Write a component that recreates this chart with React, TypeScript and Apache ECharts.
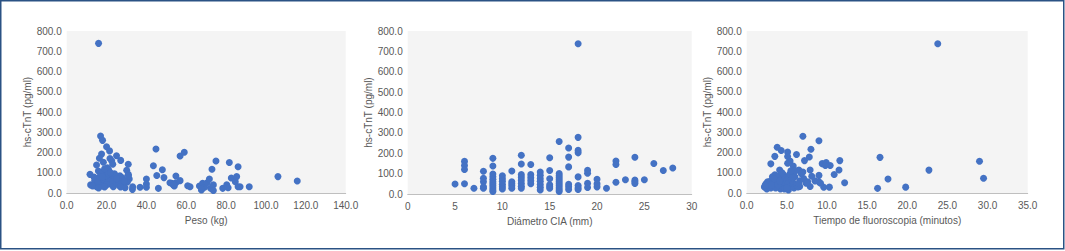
import React, { useEffect, useRef } from "react";
import * as echarts from "echarts";

const yTicks = [0, 100, 200, 300, 400, 500, 600, 700, 800];
const yTitle = "hs-cTnT (pg/ml)";
const xTitles = ["Peso (kg)", "Diámetro CIA (mm)", "Tiempo de fluoroscopia (minutos)"];

const pesoData: number[][] = [
  [16, 739], [17, 281], [18, 260], [20, 228], [21.5, 208], [17.5, 192], [25, 184], [16.4, 172], [21.7, 170], [22.6, 158],
  [27.1, 161], [15, 138], [18.4, 152], [23.1, 142], [30.9, 142], [20.4, 125], [30.1, 112], [15.9, 109], [18.4, 105], [21, 115],
  [26.7, 85], [11.7, 92], [30.9, 92], [13.7, 79], [17, 88], [19.5, 95], [22, 80], [24, 75], [28, 75], [31.4, 69],
  [12, 40], [15, 31], [16, 55], [17, 45], [18, 65], [19, 50], [20, 70], [21, 60], [22, 45], [23, 55],
  [16.5, 75], [18, 35], [20, 40], [14, 60], [15.5, 50], [23.4, 31], [25, 50], [26, 60], [28.4, 48], [29.3, 26],
  [30.5, 55], [33.1, 31], [33, 18], [36.8, 28], [40, 69], [40, 44], [40, 28], [43.5, 135], [44.8, 217], [45.2, 86],
  [46, 23], [48, 115], [48.8, 76], [51.8, 51], [52.8, 48], [54, 35], [54.8, 51], [54.8, 84], [56.9, 61], [56.9, 183],
  [59, 201], [60.7, 36], [61.9, 31], [66.6, 35], [67.6, 15], [68.2, 48], [69.2, 28], [70.5, 51], [71.6, 69], [72.2, 23],
  [72.9, 117], [73.6, 40], [73.6, 12], [74.9, 158], [78.3, 23], [80.3, 40], [81.6, 151], [82.6, 74], [84.6, 56], [85.3, 81],
  [86, 130], [86, 31], [87, 31], [91.6, 31], [106, 81], [115.7, 59],
  [17, 100], [19, 120], [20, 85], [24, 95], [26, 40], [27, 30], [13, 35], [16, 25], [18, 80], [21, 95],
  [25, 70], [19, 30], [22, 100], [29, 60], [31, 85], [53.5, 40], [81, 26], [67.7, 20]
];

const ciaData: number[][] = [
  [5, 49],
  [6, 160], [6, 140], [6, 120], [6, 50],
  [7, 28],
  [8, 112], [8, 77], [8, 60], [8, 28], [8, 35],
  [9, 175], [9, 137], [9, 98], [9, 85], [9, 72], [9, 60], [9, 50], [9, 40], [9, 30], [9, 20], [9, 12],
  [10, 90], [10, 75], [10, 62], [10, 48], [10, 35], [10, 25],
  [11, 113], [11, 60], [11, 50], [11, 40], [11, 28],
  [12, 190], [12, 147], [12, 95], [12, 82], [12, 68], [12, 52], [12, 38], [12, 28],
  [13, 145], [13, 95], [13, 80], [13, 65], [13, 50],
  [14, 108], [14, 92], [14, 76], [14, 62], [14, 47], [14, 33], [14, 20],
  [15, 178], [15, 115], [15, 75], [15, 45], [15, 35], [15, 28],
  [16, 258], [16, 100], [16, 90], [16, 80], [16, 70], [16, 60], [16, 50], [16, 40], [16, 30], [16, 20], [16, 12],
  [17, 226], [17, 181], [17, 133], [17, 48], [17, 35], [17, 22],
  [18, 737], [18, 278], [18, 214], [18, 202], [18, 84], [18, 42], [18, 30], [18, 22],
  [19, 116], [19, 102], [19, 52], [19, 32],
  [20, 72], [20, 50], [20, 35],
  [21, 28],
  [22, 162], [22, 145], [22, 58],
  [23, 70],
  [24, 180], [24, 68], [24, 60], [24, 52],
  [25, 70], [26, 150], [27, 115], [28, 128]
];

const fluoroData: number[][] = [
  [23.8, 737], [7.0, 280], [9.0, 258], [3.8, 226], [4.3, 210], [5.1, 202], [8.0, 216], [6.2, 190], [3.5, 181], [7.8, 178],
  [5.1, 180], [7.2, 160], [5.4, 158], [3.0, 144], [5.1, 147], [11.6, 160], [9.4, 145], [9.9, 150], [10.4, 136], [9.8, 136],
  [16.6, 176], [29.0, 157], [22.7, 113], [29.5, 73], [17.6, 69], [19.8, 29], [16.3, 23], [12.2, 51], [11.5, 114], [10.9, 91],
  [10.3, 29], [9.6, 28], [9.0, 87], [9.0, 55], [8.1, 83], [7.9, 114], [7.6, 55], [7.9, 32], [7.0, 104], [7.1, 72],
  [6.6, 32], [6.5, 114], [5.8, 133], [5.6, 104], [4.1, 114], [9.2, 48], [8.5, 60],
  [2.2, 30], [2.4, 45], [2.5, 20], [2.6, 55], [2.8, 35], [3.0, 60], [3.0, 25], [3.2, 80], [3.3, 45], [3.5, 90],
  [3.5, 30], [3.7, 65], [3.8, 50], [4.0, 85], [4.0, 35], [4.2, 20], [4.3, 70], [4.5, 55], [4.5, 40], [4.6, 90],
  [4.8, 75], [4.9, 30], [5.0, 60], [5.1, 45], [5.2, 15], [5.3, 85], [5.4, 95], [5.5, 35], [5.6, 65], [5.8, 50],
  [5.9, 25], [6.0, 80], [6.2, 40], [6.4, 30], [6.6, 60], [6.8, 95], [2.6, 40], [2.9, 50], [3.4, 70], [4.4, 100],
  [5.7, 75], [6.1, 110], [6.5, 45], [7.4, 48], [3.6, 25], [4.7, 20], [2.3, 38], [3.1, 40], [3.9, 40], [4.1, 60],
  [5.5, 110], [5.0, 25]
];

const xRanges = [
  { max: 140, interval: 20, decimals: 1 },
  { max: 30, interval: 5, decimals: 0 },
  { max: 35, interval: 5, decimals: 1 }
];

const FONT = "'Liberation Sans', Arial, sans-serif";
const TEXT = "#595959";

export default function App() {
  const ref = useRef<HTMLDivElement>(null);
  useEffect(() => {
    if (!ref.current) return;
    const chart = echarts.init(ref.current, null, { renderer: "svg" });
    const grids = [
      { left: 66.7, top: 31, width: 279, height: 162 },
      { left: 407.7, top: 31, width: 284, height: 163 },
      { left: 746.7, top: 31, width: 281, height: 162 }
    ];
    const datasets = [pesoData, ciaData, fluoroData];
    chart.setOption({
      animation: false,
      textStyle: { fontFamily: FONT },
      graphic: [
        {
          type: "rect",
          shape: { x: 0.75, y: 0.75, width: 1063, height: 248 },
          style: { fill: "none", stroke: "#2B5284", lineWidth: 1.5 },
          silent: true
        }
      ],
      grid: grids.map((g) => ({ ...g, show: true, backgroundColor: "#F4F4F4", borderWidth: 0 })),
      xAxis: xRanges.map((r, i) => ({
        type: "value",
        gridIndex: i,
        min: 0,
        max: r.max,
        interval: r.interval,
        name: xTitles[i],
        nameLocation: "middle",
        nameGap: 22,
        nameTextStyle: { color: TEXT, fontSize: 10, fontFamily: FONT },
        axisLine: { show: true, lineStyle: { color: "#BFBFBF", width: 1 } },
        axisTick: { show: false },
        splitLine: { show: false },
        axisLabel: {
          color: TEXT,
          fontSize: 10,
          fontFamily: FONT,
          margin: 7,
          formatter: (v: number) => v.toFixed(r.decimals)
        }
      })),
      yAxis: grids.map((_, i) => ({
        type: "value",
        gridIndex: i,
        min: yTicks[0],
        max: yTicks[yTicks.length - 1],
        interval: yTicks[1] - yTicks[0],
        name: yTitle,
        nameLocation: "middle",
        nameGap: 32,
        nameTextStyle: { color: TEXT, fontSize: 10, fontFamily: FONT },
        axisLine: { show: false },
        axisTick: { show: false },
        splitLine: { show: false },
        axisLabel: {
          color: TEXT,
          fontSize: 10,
          fontFamily: FONT,
          margin: 5,
          formatter: (v: number) => v.toFixed(1)
        }
      })),
      series: datasets.map((d, i) => ({
        type: "scatter",
        xAxisIndex: i,
        yAxisIndex: i,
        data: d,
        symbolSize: 7,
        itemStyle: { color: "#4472C4", opacity: 1 }
      }))
    });
    return () => chart.dispose();
  }, []);
  return (
    <div
      ref={ref}
      style={{ position: "fixed", left: 0, top: 0, width: 1065, height: 251, background: "#fff" }}
    />
  );
}
